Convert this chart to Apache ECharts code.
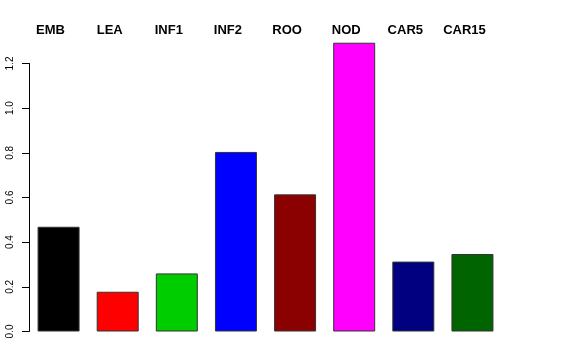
<!DOCTYPE html>
<html><head><meta charset="utf-8">
<script src="https://cdn.jsdelivr.net/npm/echarts@6/dist/echarts.min.js"></script>
<style>html,body{margin:0;padding:0;background:#fff}#c{width:576px;height:360px}</style>
</head><body><div id="c"></div>
<script>
var categories = ["EMB","LEA","INF1","INF2","ROO","NOD","CAR5","CAR15"];
var values = [0.469, 0.178, 0.260, 0.804, 0.614, 1.293, 0.313, 0.347];
var colors = ["#000000","#FF0000","#00CD00","#0000FF","#8B0000","#FF00FF","#000080","#006400"];
var yTicks = [0, 0.2, 0.4, 0.6, 0.8, 1.0, 1.2];

var chart = echarts.init(document.getElementById('c'), null, {renderer:'canvas'});
chart.setOption({
  animation: false,
  backgroundColor: '#ffffff',
  grid: {left: 29, right: 74, top: 63.5, bottom: 28.5},
  xAxis: {
    type: 'category', data: categories, position: 'top',
    axisLine: {show: false}, axisTick: {show: false},
    axisLabel: {fontFamily: 'Liberation Sans', fontWeight: 'bold', fontSize: 13, color: '#000',
      margin: 27, padding: [0, 16, 0, 0], interval: 0}
  },
  yAxis: {
    type: 'value', min: yTicks[0], max: yTicks[yTicks.length-1], interval: 0.2,
    axisLine: {show: true, lineStyle: {color: '#000', width: 1}},
    axisTick: {show: true, length: 7, lineStyle: {color: '#000'}},
    splitLine: {show: false},
    axisLabel: {rotate: 90, fontFamily: 'Liberation Sans', fontSize: 10, color: '#000', margin: 14,
      formatter: function(v){ return v.toFixed(1); }}
  },
  series: [{
    type: 'bar', clip: false, barWidth: 42,
    data: values.map(function(v, i){ return {value: v, itemStyle: {color: colors[i]}}; }),
    itemStyle: {borderColor: '#333', borderWidth: 1}
  }]
});
</script></body></html>
